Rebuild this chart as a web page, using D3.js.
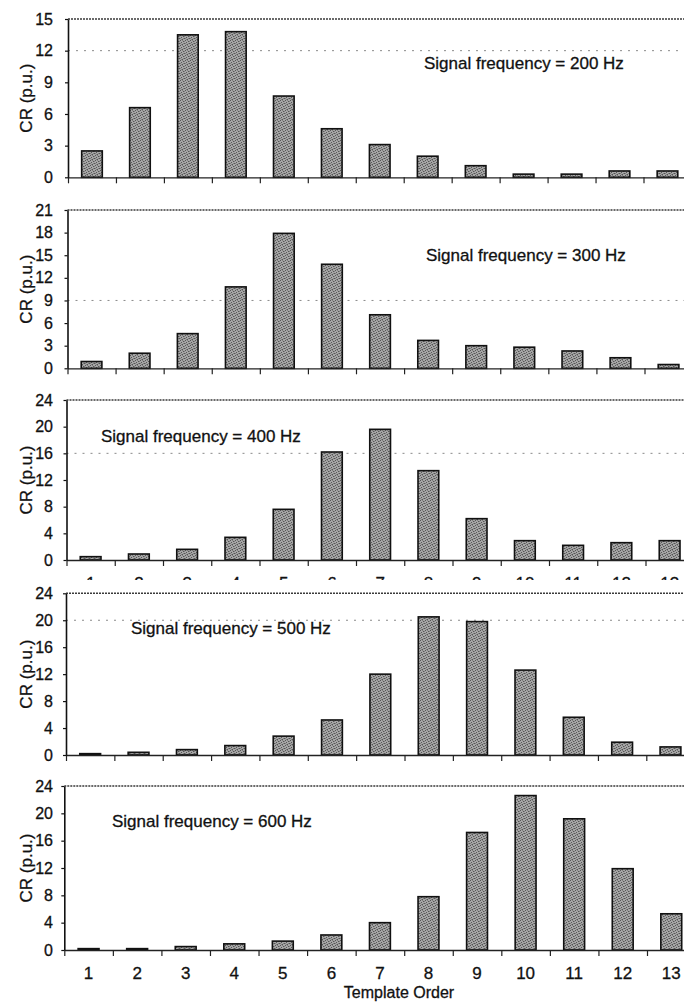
<!DOCTYPE html>
<html>
<head>
<meta charset="utf-8">
<script src="https://cdn.jsdelivr.net/npm/d3@7"></script>
<style>
  html, body { margin: 0; padding: 0; background: #fff; }
  svg { display: block; }
  text { font-family: "Liberation Sans", Arial, sans-serif; fill: #111; stroke: #111; stroke-width: 0.3px; }
</style>
</head>
<body>
<div id="chart"></div>
<script>
// Template orders on the shared x axis
const templateOrders = [1, 2, 3, 4, 5, 6, 7, 8, 9, 10, 11, 12, 13];

// Signal frequencies, one panel each (Hz)
const frequencies = [200, 300, 400, 500, 600];

// CR (p.u.) for each template order, per signal frequency
const cr200 = [2.5, 6.6, 13.5, 13.8, 7.7, 4.6, 3.1, 2.0, 1.1, 0.3, 0.3, 0.6, 0.6];
const cr300 = [0.9, 2.0, 4.6, 10.8, 17.9, 13.8, 7.1, 3.7, 3.0, 2.8, 2.3, 1.4, 0.5];
const cr400 = [0.5, 0.9, 1.6, 3.4, 7.6, 16.2, 19.6, 13.4, 6.2, 2.9, 2.2, 2.6, 2.9];
const cr500 = [0.2, 0.4, 0.8, 1.4, 2.8, 5.2, 12.0, 20.5, 19.8, 12.6, 5.6, 1.9, 1.2];
const cr600 = [0.2, 0.2, 0.5, 0.9, 1.3, 2.2, 4.0, 7.8, 17.2, 22.6, 19.2, 11.9, 5.3];

// Y tick labels per panel
const yTicks200 = [0, 3, 6, 9, 12, 15];
const yTicks300 = [0, 3, 6, 9, 12, 15, 18, 21];
const yTicks400 = [0, 4, 8, 12, 16, 20, 24];
const yTicks500 = [0, 4, 8, 12, 16, 20, 24];
const yTicks600 = [0, 4, 8, 12, 16, 20, 24];

// Faint horizontal gridline kept in each panel (null = none)
const gridValues = [12, 9, 16, 20, null];

const panels = frequencies.map((f, i) => ({
  freq: f,
  values: [cr200, cr300, cr400, cr500, cr600][i],
  ticks: [yTicks200, yTicks300, yTicks400, yTicks500, yTicks600][i],
  grid: gridValues[i]
}));

// Page geometry of each panel
const layout = [
  { top: 19,    zero: 177.3, left: 68,   tick12: 643.5, titleX: 424, titleY: 69 },
  { top: 210,   zero: 368.3, left: 67.5, tick12: 644.5, titleX: 426, titleY: 261 },
  { top: 400,   zero: 560,   left: 66.5, tick12: 645.5, titleX: 101, titleY: 442, stub: true },
  { top: 593.3, zero: 755,   left: 66,   tick12: 646.3, titleX: 131, titleY: 634 },
  { top: 786,   zero: 950,   left: 64.3, tick12: 647,   titleX: 112, titleY: 827, labels: true }
];

const W = 684, H = 1006;
const svg = d3.select("#chart").append("svg")
  .attr("width", W).attr("height", H)
  .attr("viewBox", `0 0 ${W} ${H}`);

// stippled grey bar fill
const defs = svg.append("defs");
const pat = defs.append("pattern")
  .attr("id", "stipple").attr("patternUnits", "userSpaceOnUse")
  .attr("width", 5).attr("height", 5);
pat.append("rect").attr("width", 5).attr("height", 5).attr("fill", "#a6a6a6");
[[0, 0], [3, 1], [1, 2], [4, 3], [2, 4]].forEach(([px, py]) =>
  pat.append("rect").attr("x", px).attr("y", py).attr("width", 1).attr("height", 1).attr("fill", "#555"));
[[2, 0], [4, 1], [0, 3], [3, 3], [1, 4]].forEach(([px, py]) =>
  pat.append("rect").attr("x", px).attr("y", py).attr("width", 1).attr("height", 1).attr("fill", "#808080"));

panels.forEach((p, i) => {
  const L = layout[i];
  const step = (L.tick12 - L.left) / 12;
  const right = L.left + 13 * step;

  const x = d3.scaleBand().domain(templateOrders).range([L.left, right])
    .paddingInner(0.57).paddingOuter(0.285);
  const xEdge = d3.scaleLinear().domain([0, 13]).range([L.left, right]);
  const yMax = p.ticks[p.ticks.length - 1];
  const y = d3.scaleLinear().domain([0, yMax]).range([L.zero, L.top]);

  const g = svg.append("g").attr("class", "panel");

  // top border of plot area
  g.append("line")
    .attr("x1", L.left).attr("x2", right)
    .attr("y1", y(yMax)).attr("y2", y(yMax))
    .attr("stroke", "#3a3a3a").attr("stroke-width", 1.5)
    .attr("stroke-dasharray", "2,1");

  // faint gridline
  if (p.grid !== null) {
    g.append("line")
      .attr("x1", L.left).attr("x2", right)
      .attr("y1", y(p.grid)).attr("y2", y(p.grid))
      .attr("stroke", "#8a8a8a").attr("stroke-width", 1)
      .attr("stroke-dasharray", "2,6");
  }

  // bars
  g.selectAll("rect.bar")
    .data(templateOrders.map((t, k) => ({ t, v: p.values[k] })))
    .join("rect")
    .attr("class", "bar")
    .attr("x", d => x(d.t))
    .attr("width", x.bandwidth())
    .attr("y", d => y(d.v))
    .attr("height", d => y(0) - y(d.v))
    .attr("fill", "url(#stipple)")
    .attr("stroke", "#111").attr("stroke-width", 1.6);

  // x axis line with category boundary ticks
  const xAxis = g.append("g")
    .attr("transform", `translate(0,${L.zero})`)
    .call(d3.axisBottom(xEdge).tickValues(d3.range(14)).tickFormat("")
      .tickSize(6).tickSizeOuter(0));
  xAxis.select(".domain").attr("stroke", "#222").attr("stroke-width", 1.3);
  xAxis.selectAll(".tick line").attr("stroke", "#222").attr("stroke-width", 1.2);

  // x tick labels
  if (L.labels || L.stub) {
    const lab = g.append("g")
      .attr("transform", `translate(0,${L.zero})`)
      .call(d3.axisBottom(x).tickSize(0).tickPadding(16.5));
    lab.select(".domain").remove();
    lab.selectAll("text").style("font-size", "17px").attr("fill", "#111");
    if (L.stub) {
      // labels of this panel are covered by the panel below; only their tops show
      const cid = "clip" + i;
      defs.append("clipPath").attr("id", cid)
        .append("rect").attr("x", 0).attr("y", -50).attr("width", W).attr("height", 70);
      lab.attr("clip-path", `url(#${cid})`);
    }
  }

  // y axis
  const yAxis = g.append("g")
    .attr("transform", `translate(${L.left},0)`)
    .call(d3.axisLeft(y).tickValues(p.ticks).tickSize(3).tickSizeOuter(0)
      .tickPadding(L.left - 3 - 53));
  yAxis.select(".domain").attr("stroke", "#111").attr("stroke-width", 1.6);
  yAxis.selectAll(".tick line").attr("stroke", "#111").attr("stroke-width", 1.2);
  yAxis.selectAll("text").style("font-size", "16px").attr("fill", "#111");

  // y axis title
  g.append("text")
    .attr("transform", `translate(32,${(L.top + L.zero) / 2}) rotate(-90)`)
    .attr("text-anchor", "middle")
    .style("font-size", "17px")
    .text("CR (p.u.)");

  // panel caption
  g.append("text")
    .attr("x", L.titleX).attr("y", L.titleY)
    .style("font-size", "17px")
    .text(`Signal frequency = ${p.freq} Hz`);
});

// x axis title
svg.append("text")
  .attr("x", 399).attr("y", 998)
  .attr("text-anchor", "middle")
  .style("font-size", "16px")
  .text("Template Order");
</script>
</body>
</html>
